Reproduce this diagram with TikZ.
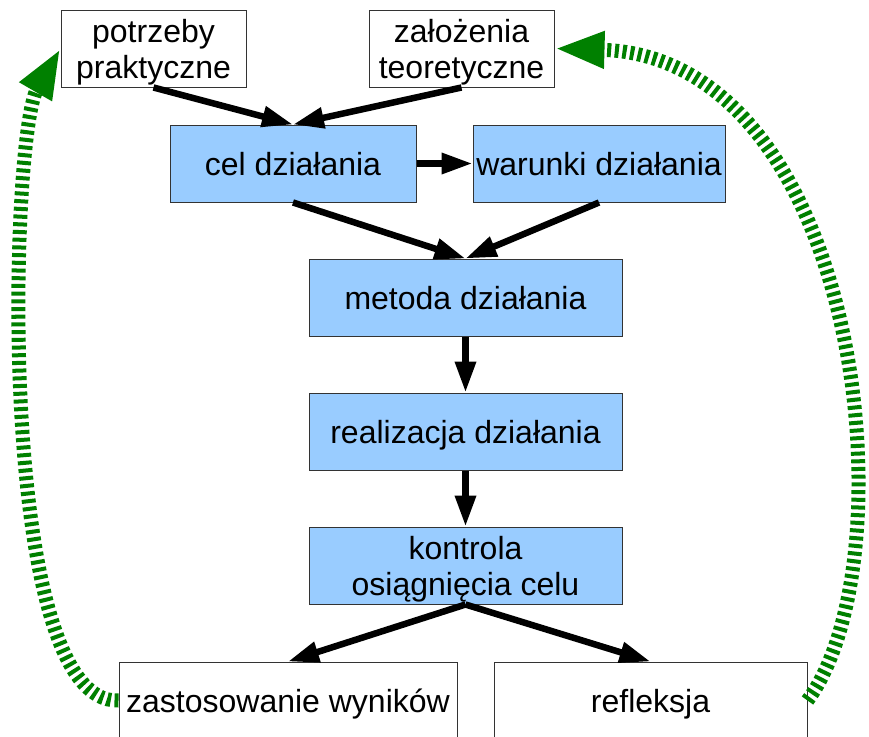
\documentclass[tikz,border=0pt]{standalone}
\usepackage{fontspec}
\setmainfont{Liberation Sans}
\usetikzlibrary{arrows.meta}
\definecolor{boxblue}{HTML}{99CCFF}
\definecolor{dgreen}{HTML}{008000}
\definecolor{frame}{HTML}{333333}
\begin{document}
\begin{tikzpicture}[x=1pt,y=-1pt,
  box/.style={rectangle,draw=frame,line width=1pt,inner sep=0pt,minimum height=77pt,
    font=\fontsize{32}{36}\selectfont,align=center},
  one/.style={text height=23pt,text depth=0pt},
  two/.style={text depth=0pt},
  bluebox/.style={box,fill=boxblue},
  whitebox/.style={box,fill=white},
  flow/.style={line width=6.5pt,-{Triangle[length=31pt,width=20pt]}},
  loop/.style={dgreen,line width=14pt,dash pattern=on 4pt off 3.7pt,
    -{Triangle[length=50pt,width=34pt]}}
]
\useasboundingbox (0,0) rectangle (869,736);
\clip (0,0) rectangle (869,736);
\fill[white] (0,0) rectangle (869,736);

\node[whitebox,two,minimum width=185pt] (pot) at (153.5,48.5) {potrzeby\\praktyczne};
\node[whitebox,two,minimum width=185pt] (zal) at (461.5,48.5) {założenia\\teoretyczne};
\node[bluebox,one,minimum width=246pt] (cel) at (293,163.5) {cel działania};
\node[bluebox,one,minimum width=252pt] (war) at (599,163.5) {warunki działania};
\node[bluebox,one,minimum width=313pt] (met) at (465.5,297.5) {metoda działania};
\node[bluebox,one,minimum width=313pt] (rea) at (465.5,431.5) {realizacja działania};
\node[bluebox,two,minimum width=313pt] (kon) at (465.5,565.5) {kontrola\\osiągnięcia celu};
\node[whitebox,one,minimum width=338pt] (zas) at (288,700.5) {zastosowanie wyników};
\node[whitebox,one,minimum width=313pt] (ref) at (650.5,700.5) {refleksja};

\draw[flow] (pot.south) -- (cel.north);
\draw[flow] (zal.south) -- (cel.north);
\draw[flow] (cel.east) -- (war.west);
\draw[flow] (cel.south) -- (met.north);
\draw[flow] (war.south) -- (met.north);
\draw[flow] (met.south) -- (rea.north);
\draw[flow] (rea.south) -- (kon.north);
\draw[flow] (kon.south) -- (zas.north);
\draw[flow] (kon.south) -- (ref.north);

\draw[loop] (zas.west) .. controls (-5,705) and (10,136) .. (pot.west);
\draw[loop] (ref.east) .. controls (912,560) and (862,57) .. (zal.east);
\end{tikzpicture}
\end{document}
